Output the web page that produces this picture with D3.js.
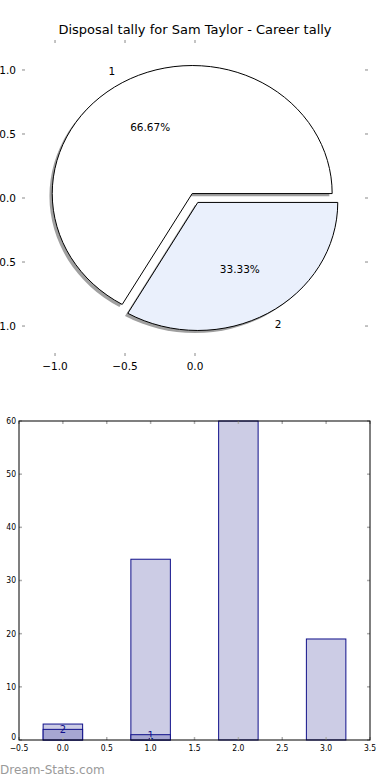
<html>
<head>
  <meta charset="utf-8">
  <script src="https://d3js.org/d3.v7.min.js"></script>
  <style>
    body { margin: 0; background: white; }
    text { font-family: "DejaVu Sans", sans-serif; }
    .tick-mark { stroke: #b0b0b0; stroke-width: 1.5px; }
    .bar-label { font-family: "DejaVu Sans Condensed", "DejaVu Sans", sans-serif; }
  </style>
</head>
<body>
  <svg id="chart" width="390" height="780"></svg>
  <script>
    // pie data
    const pieLabels = ["1", "2"];
    const pieValues = [2, 1];
    const pieColors = ["#ffffff", "#eaf0fc"];
    const pieTicks = [-1.0, -0.5, 0.0];
    const pieYTicks = [1.0, 0.5, 0.0, -0.5, -1.0];

    // bar data
    const barPositions = [0, 1, 2, 3];
    const totalValues = [3, 34, 60, 19];
    const markedValues = [2, 1, 0, 0];
    const barXTicks = [-0.5, 0.0, 0.5, 1.0, 1.5, 2.0, 2.5, 3.0, 3.5];
    const barYTicks = [0, 10, 20, 30, 40, 50, 60];

    const svg = d3.select("#chart");
    const fmt1 = d3.format(".1f");
    const minus = s => s.replace("-", "\u2212");

    // title
    svg.append("text")
      .attr("x", 195).attr("y", 34)
      .attr("text-anchor", "middle")
      .style("font-size", "13px")
      .text("Disposal tally for Sam Taylor - Career tally");

    //---- pie
    const px = d3.scaleLinear().domain([-1.236, 1.236]).range([22, 368]);
    const py = d3.scaleLinear().domain([-1.234, 1.234]).range([356, 40]);
    const explode = 0.04;

    // tick marks (no spines)
    const pie = svg.append("g");
    pieTicks.forEach(t => {
      pie.append("line").attr("class", "tick-mark")
        .attr("x1", px(t)).attr("x2", px(t)).attr("y1", py.range()[1]).attr("y2", py.range()[1] + 3);
      pie.append("line").attr("class", "tick-mark")
        .attr("x1", px(t)).attr("x2", px(t)).attr("y1", py.range()[0]).attr("y2", py.range()[0] - 3);
      pie.append("text")
        .attr("x", px(t)).attr("y", py.range()[0] + 14)
        .attr("text-anchor", "middle")
        .style("font-size", "10.5px")
        .text(minus(fmt1(t)));
    });
    pieYTicks.forEach(t => {
      pie.append("line").attr("class", "tick-mark")
        .attr("x1", px.range()[0]).attr("x2", px.range()[0] + 3).attr("y1", py(t)).attr("y2", py(t));
      pie.append("line").attr("class", "tick-mark")
        .attr("x1", px.range()[1]).attr("x2", px.range()[1] - 3).attr("y1", py(t)).attr("y2", py(t));
      pie.append("text")
        .attr("x", px.range()[0] - 6).attr("y", py(t))
        .attr("dy", "0.35em")
        .attr("text-anchor", "end")
        .style("font-size", "10.5px")
        .text(minus(fmt1(t)));
    });

    const arcs = d3.pie().sort(null).startAngle(0).endAngle(2 * Math.PI)(pieValues);

    function slicePath(d, dx, dy) {
      const mid = (d.startAngle + d.endAngle) / 2;
      const cx = explode * Math.cos(mid) + dx;
      const cy = explode * Math.sin(mid) + dy;
      const rx = px(1) - px(0), ry = py(0) - py(1);
      const x0 = px(cx + Math.cos(d.startAngle)), y0 = py(cy + Math.sin(d.startAngle));
      const x1 = px(cx + Math.cos(d.endAngle)), y1 = py(cy + Math.sin(d.endAngle));
      const large = (d.endAngle - d.startAngle) > Math.PI ? 1 : 0;
      return "M" + px(cx) + "," + py(cy) + "L" + x0 + "," + y0 +
        "A" + rx + "," + ry + " 0 " + large + " 0 " + x1 + "," + y1 + "Z";
    }

    pie.selectAll("path.shadow").data(arcs).join("path")
      .attr("class", "shadow")
      .attr("d", d => slicePath(d, -0.02, -0.02))
      .attr("fill", "#808080")
      .attr("opacity", 0.75);

    pie.selectAll("path.slice").data(arcs).join("path")
      .attr("class", "slice")
      .attr("d", d => slicePath(d, 0, 0))
      .attr("fill", (d, i) => pieColors[i])
      .attr("stroke", "black")
      .attr("stroke-width", 1);

    arcs.forEach((d, i) => {
      const mid = (d.startAngle + d.endAngle) / 2;
      const ox = explode * Math.cos(mid), oy = explode * Math.sin(mid);
      const lx = ox + 1.1 * Math.cos(mid), ly = oy + 1.1 * Math.sin(mid);
      pie.append("text")
        .attr("x", px(lx)).attr("y", py(ly)).attr("dy", "0.35em")
        .attr("text-anchor", lx < 0 ? "end" : "start")
        .style("font-size", "10.5px")
        .text(pieLabels[i]);
      const tx = ox + 0.6 * Math.cos(mid), ty = oy + 0.6 * Math.sin(mid);
      pie.append("text")
        .attr("x", px(tx)).attr("y", py(ty)).attr("dy", "0.35em")
        .attr("text-anchor", "middle")
        .style("font-size", "10.5px")
        .text(d3.format(".2f")(100 * d.value / d3.sum(pieValues)) + "%");
    });

    //---- bars
    const bx = d3.scaleLinear().domain([-0.5, 3.5]).range([19, 370]);
    const by = d3.scaleLinear().domain([0, 60]).range([740, 421]);
    const bw = 0.45;
    const bars = svg.append("g");

    bars.selectAll("rect.total").data(barPositions).join("rect")
      .attr("class", "total")
      .attr("x", d => bx(d - bw / 2)).attr("width", bx(bw) - bx(0))
      .attr("y", (d, i) => by(totalValues[i])).attr("height", (d, i) => by(0) - by(totalValues[i]))
      .attr("fill", "#ccccE5").attr("stroke", "#10108a").attr("stroke-width", 1);

    const marked = barPositions.map((p, i) => ({ p: p, v: markedValues[i] })).filter(d => d.v > 0);
    bars.selectAll("rect.marked").data(marked).join("rect")
      .attr("class", "marked")
      .attr("x", d => bx(d.p - bw / 2)).attr("width", bx(bw) - bx(0))
      .attr("y", d => by(d.v)).attr("height", d => by(0) - by(d.v))
      .attr("fill", "#a6a6d2").attr("stroke", "#10108a").attr("stroke-width", 1);

    bars.selectAll("text.mlabel").data(marked).join("text")
      .attr("class", "mlabel bar-label")
      .attr("x", d => bx(d.p)).attr("y", d => by(d.v)).attr("dy", "0.35em")
      .attr("text-anchor", "middle")
      .attr("fill", "#10108a")
      .style("font-size", "11px")
      .text(d => d.v);

    // ticks
    barXTicks.forEach(t => {
      bars.append("line").attr("class", "tick-mark")
        .attr("x1", bx(t)).attr("x2", bx(t)).attr("y1", by(0)).attr("y2", by(0) - 3);
      bars.append("line").attr("class", "tick-mark")
        .attr("x1", bx(t)).attr("x2", bx(t)).attr("y1", by(60)).attr("y2", by(60) + 3);
      bars.append("text").attr("class", "bar-label")
        .attr("x", bx(t)).attr("y", by(0) + 11)
        .attr("text-anchor", "middle")
        .style("font-size", "8.5px")
        .text(minus(fmt1(t)));
    });
    barYTicks.forEach(t => {
      bars.append("line").attr("class", "tick-mark")
        .attr("x1", bx(-0.5)).attr("x2", bx(-0.5) + 3).attr("y1", by(t)).attr("y2", by(t));
      bars.append("line").attr("class", "tick-mark")
        .attr("x1", bx(3.5)).attr("x2", bx(3.5) - 3).attr("y1", by(t)).attr("y2", by(t));
      bars.append("text").attr("class", "bar-label")
        .attr("x", bx(-0.5) - 3).attr("y", by(t) - (t === 0 ? 3 : 0)).attr("dy", "0.35em")
        .attr("text-anchor", "end")
        .style("font-size", "8.5px")
        .text(t);
    });

    // frame
    bars.append("rect")
      .attr("x", bx(-0.5)).attr("y", by(60))
      .attr("width", bx(3.5) - bx(-0.5)).attr("height", by(0) - by(60))
      .attr("fill", "none").attr("stroke", "black").attr("stroke-width", 1);

    // watermark
    svg.append("text")
      .attr("x", 0).attr("y", 774)
      .attr("fill", "#9a9a9a")
      .style("font-size", "12px")
      .text("Dream-Stats.com");
  </script>
</body>
</html>
